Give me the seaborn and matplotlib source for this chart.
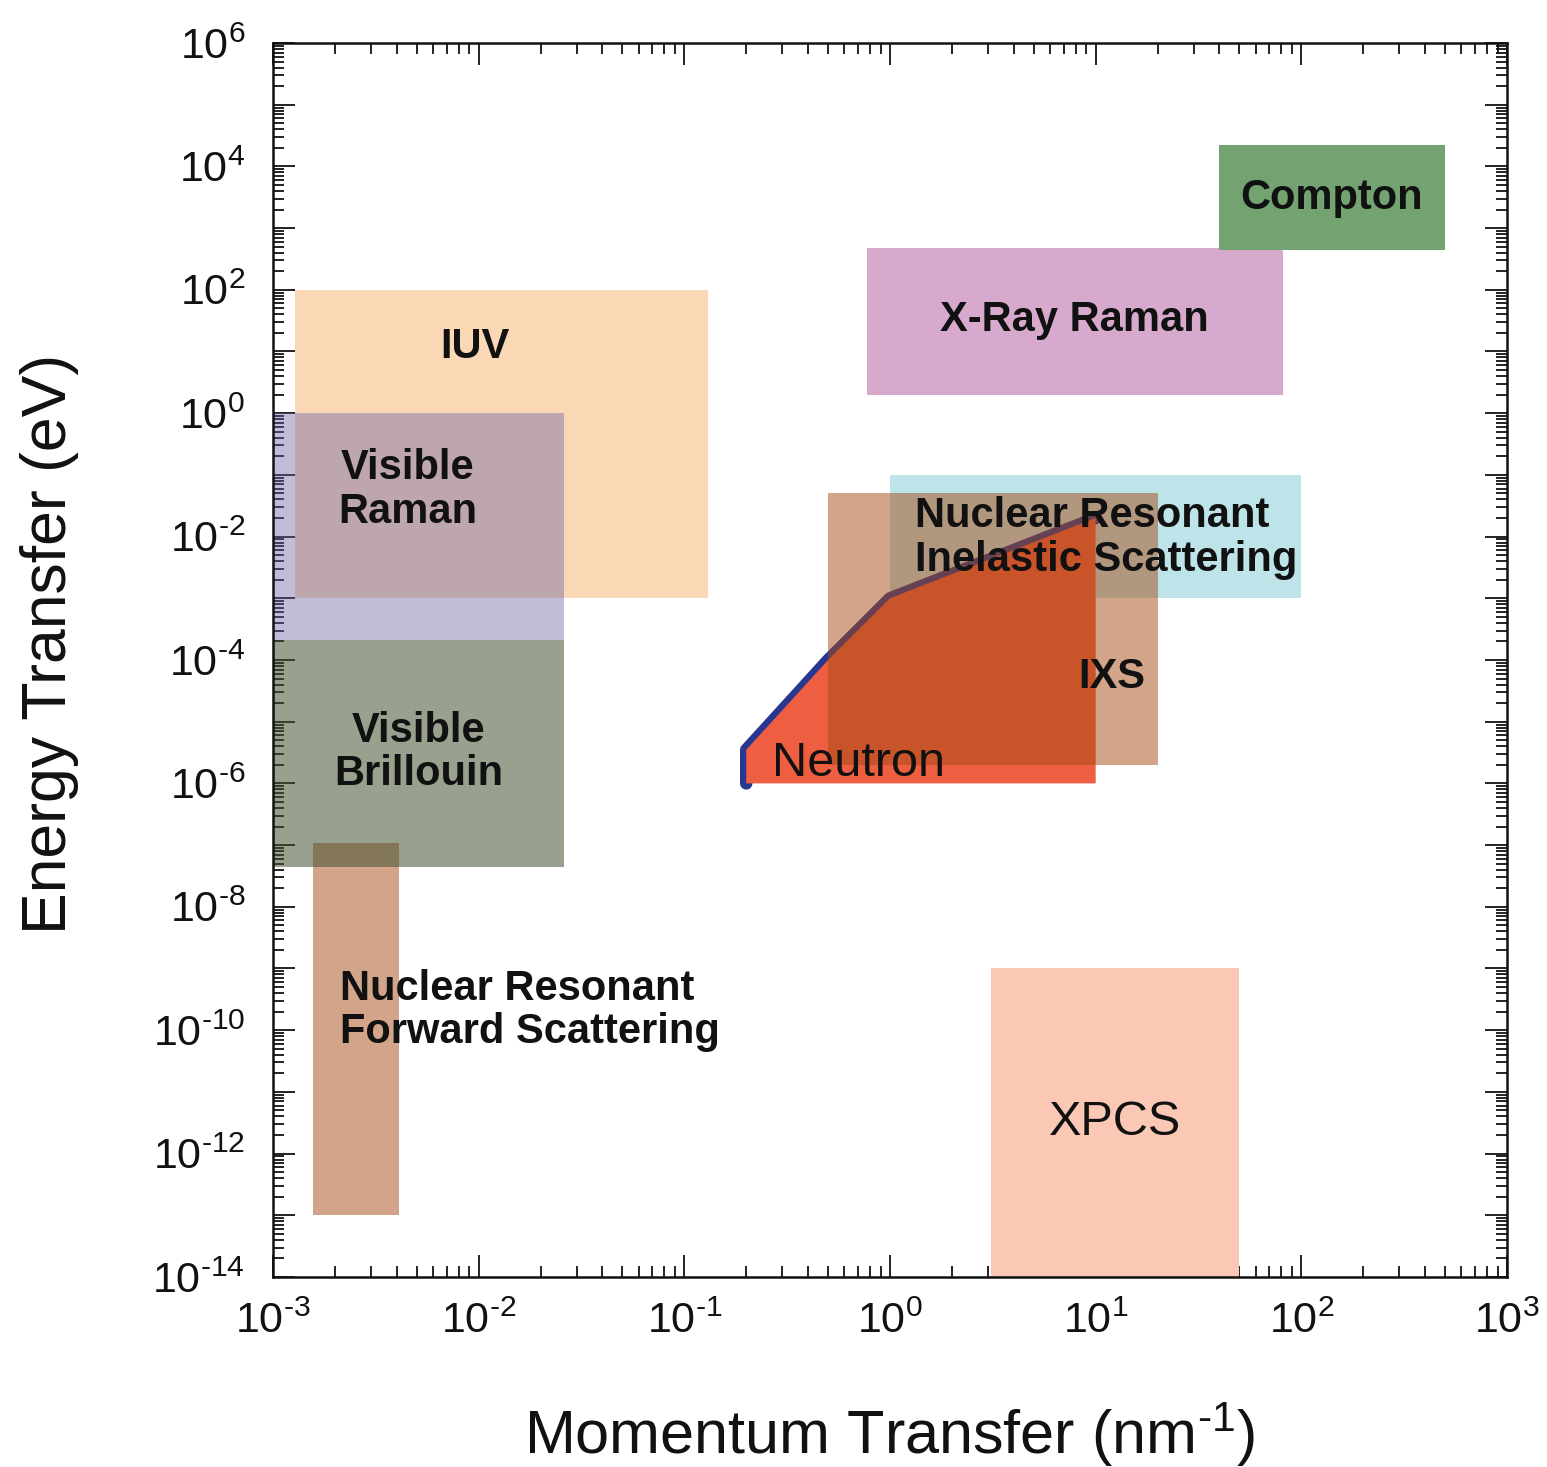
import numpy as np
import matplotlib
matplotlib.use("Agg")
import matplotlib.pyplot as plt
import seaborn as sns
from matplotlib.ticker import LogLocator, FuncFormatter, NullFormatter

# Momentum-transfer (nm^-1) and energy-transfer (eV) windows of each probe
regions = ["IUV", "Visible Raman", "Nuclear Resonant Forward Scattering",
           "Visible Brillouin", "XPCS", "X-Ray Raman", "Compton",
           "Nuclear Resonant Inelastic Scattering", "IXS"]
q_min = [1.28e-3, 1.0e-3, 1.56e-3, 1.0e-3, 3.1, 0.77, 40.0, 1.0, 0.5]
q_max = [0.13, 0.026, 4.1e-3, 0.026, 50.0, 81.0, 500.0, 100.0, 20.0]
e_min = [1e-3, 2.1e-4, 1e-13, 4.4e-8, 1e-14, 2.0, 440.0, 1e-3, 2e-6]
e_max = [1e2, 1.0, 1.07e-7, 2.1e-4, 1e-9, 480.0, 2.2e4, 0.1, 0.05]

# Neutron scattering coverage (kinematic limit on the upper-left side)
neutron_q = [0.2, 0.2, 0.5, 1.0, 10.0, 10.0]
neutron_e = [1e-6, 3.5e-6, 1e-4, 1e-3, 0.02, 1e-6]

# Fill colour, opacity and stacking order of each window
style = {
    "IUV": ("#FAD8B6", 1.0, 1),
    "Visible Raman": ("#6C61A4", 0.42, 2),
    "Nuclear Resonant Forward Scattering": ("#A74B15", 0.5, 3),
    "Visible Brillouin": ("#445232", 0.55, 4),
    "XPCS": ("#FAC8B4", 1.0, 2),
    "X-Ray Raman": ("#D7AACD", 1.0, 2),
    "Compton": ("#72A370", 1.0, 3),
    "Nuclear Resonant Inelastic Scattering": ("#BEE4EA", 1.0, 2),
    "IXS": ("#A74B15", 0.5, 8),
}

# Label text, anchor point and look
labels = [
    ("IUV", 9.6e-3, 11.8, "center", "bold", 30),
    ("Visible\nRaman", 4.5e-3, 0.057, "center", "bold", 30),
    ("Visible\nBrillouin", 5.1e-3, 3.2e-6, "center", "bold", 30),
    ("Nuclear Resonant\nForward Scattering", 2.12e-3, 2.1e-10, "left", "bold", 30),
    ("Nuclear Resonant\nInelastic Scattering", 1.32, 9.5e-3, "left", "bold", 30),
    ("IXS", 12.0, 5.3e-5, "center", "bold", 30),
    ("Neutron", 0.267, 2.1e-6, "left", "normal", 35),
    ("XPCS", 12.4, 3.2e-12, "center", "normal", 35),
    ("Compton", 141.0, 3.1e3, "center", "bold", 30),
    ("X-Ray Raman", 7.9, 32.0, "center", "bold", 30),
]

sns.set_theme(style="ticks")
plt.rcParams["font.family"] = ["Liberation Sans", "DejaVu Sans"]
plt.rcParams["mathtext.fontset"] = "custom"
plt.rcParams["mathtext.rm"] = "Liberation Sans"
plt.rcParams["mathtext.it"] = "Liberation Sans:italic"
plt.rcParams["mathtext.bf"] = "Liberation Sans:bold"
plt.rcParams["axes.unicode_minus"] = False

fig = plt.figure(figsize=(15.47, 14.67), dpi=100)
ax = fig.add_axes([273 / 1547, 1 - 1277 / 1467, 1234 / 1547, 1234 / 1467])
ax.set_xscale("log")
ax.set_yscale("log")
ax.set_xlim(1e-3, 1e3)
ax.set_ylim(1e-14, 1e6)

for name, q0, q1, e0, e1 in zip(regions, q_min, q_max, e_min, e_max):
    color, alpha, z = style[name]
    ax.fill_between([q0, q1], [e0, e0], [e1, e1], color=color, alpha=alpha,
                    linewidth=0, zorder=z)

# Neutron window: blue limit line beneath an opaque red fill
edge = {"q": neutron_q[:5], "e": neutron_e[:5]}
sns.lineplot(x=edge["q"], y=edge["e"], sort=False, estimator=None, ax=ax,
             color="#28378F", linewidth=9, zorder=5, legend=False)
ax.fill(neutron_q, neutron_e, color="#EE5F41", linewidth=0, zorder=6)

for text, x, y, ha, weight, size in labels:
    ax.text(x, y, text, ha=ha, va="center", fontsize=size, fontweight=weight,
            color="#111111", linespacing=1.1, zorder=10)

# Axes, ticks and labels
ax.xaxis.set_major_locator(LogLocator(base=10, numticks=100))
ax.yaxis.set_major_locator(LogLocator(base=10, numticks=100))
ax.xaxis.set_minor_locator(LogLocator(base=10, subs=np.arange(2, 10), numticks=200))
ax.yaxis.set_minor_locator(LogLocator(base=10, subs=np.arange(2, 10), numticks=200))
ax.xaxis.set_minor_formatter(NullFormatter())
ax.yaxis.set_minor_formatter(NullFormatter())


def power_label(n):
    exp = r"\text{-}%d" % (-n) if n < 0 else "%d" % n
    return r"$\mathdefault{10^{%s}}$" % exp


def dec_fmt(v, pos):
    return power_label(int(round(np.log10(v))))


def even_fmt(v, pos):
    n = int(round(np.log10(v)))
    return power_label(n) if n % 2 == 0 else ""


ax.xaxis.set_major_formatter(FuncFormatter(dec_fmt))
ax.yaxis.set_major_formatter(FuncFormatter(even_fmt))

ax.tick_params(which="both", direction="in", top=True, right=True,
               colors="#111111", labelsize=31)
ax.tick_params(which="major", length=16, width=1.3)
ax.tick_params(which="minor", length=8, width=1.3)
ax.tick_params(axis="y", which="major", pad=20)
ax.tick_params(axis="x", which="major", pad=18)
for sp in ax.spines.values():
    sp.set_linewidth(1.8)
    sp.set_color("#111111")
    sp.set_zorder(12)

ax.set_xlabel(r"Momentum Transfer (nm$^{\text{-}1}$)", fontsize=44, color="#111111")
ax.set_ylabel("Energy Transfer (eV)", fontsize=45, color="#111111")
ax.xaxis.set_label_coords(0.5, -0.1)
ax.xaxis.label.set_va("top")
ax.yaxis.set_label_coords(-0.157, 0.513)

fig.savefig("out.png", dpi=100)
